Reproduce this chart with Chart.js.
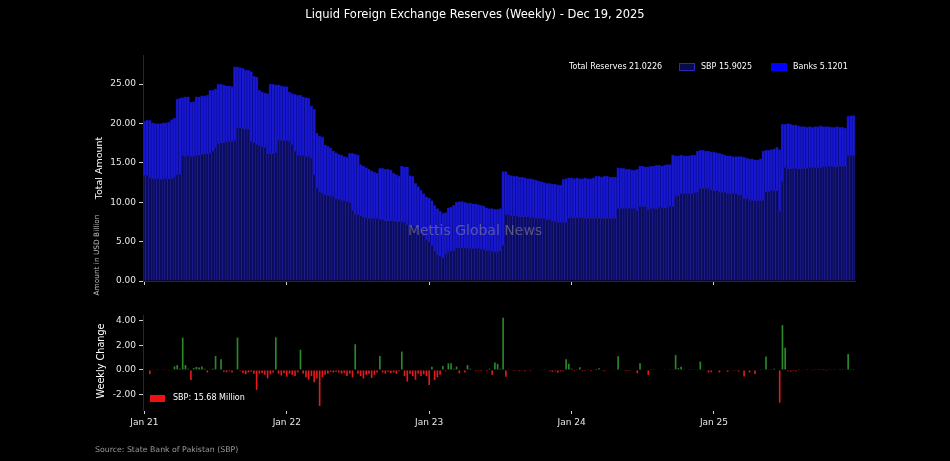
<!DOCTYPE html>
<html>
<head>
<meta charset="utf-8">
<script src="https://cdn.jsdelivr.net/npm/chart.js@4.4.1/dist/chart.umd.min.js"></script>
<style>
  html, body { margin: 0; padding: 0; background: #000; }
  body { width: 950px; height: 461px; position: relative; overflow: hidden; font-family: "DejaVu Sans", sans-serif; color: #fff; }
  #topBox { position: absolute; left: 0; top: 0; width: 950px; height: 290px; }
  #bottomBox { position: absolute; left: 0; top: 290px; width: 950px; height: 145px; }
  .t { position: absolute; white-space: nowrap; line-height: 1; }
  .rot { transform: translate(-50%, -50%) rotate(-90deg); }
  .box { position: absolute; }
</style>
</head>
<body>
<div id="topBox"><canvas id="top"></canvas></div>
<div id="bottomBox"><canvas id="bottom"></canvas></div>

<div class="t" style="left:0;width:950px;text-align:center;top:9px;font-size:11.5px;">Liquid Foreign Exchange Reserves (Weekly) - Dec 19, 2025</div>

<div class="t rot" style="left:99px;top:168px;font-size:9.5px;">Total Amount</div>
<div class="t rot" style="left:97px;top:255px;font-size:7.4px;color:#bdbdbd;">Amount in USD Billion</div>
<div class="t rot" style="left:101px;top:361px;font-size:9.7px;">Weekly Change</div>

<div class="t" style="left:569px;top:63px;font-size:8px;">Total Reserves 21.0226</div>
<div class="box" style="left:679px;top:63px;width:14px;height:6px;border:1px solid #2a2ab8;background:#0a0a48;"></div>
<div class="t" style="left:701px;top:63px;font-size:8px;">SBP 15.9025</div>
<div class="box" style="left:771px;top:63px;width:16px;height:8px;background:#0000ff;"></div>
<div class="t" style="left:793px;top:63px;font-size:8px;">Banks 5.1201</div>

<div class="box" style="left:150px;top:395px;width:15px;height:7px;background:#ee1111;"></div>
<div class="t" style="left:173px;top:394px;font-size:8px;">SBP: 15.68 Million</div>

<div class="t" style="left:475px;top:230px;transform:translate(-50%,-50%);font-size:14px;color:rgba(140,140,150,0.55);">Mettis Global News</div>

<div class="t" style="left:95px;top:446px;font-size:7.8px;color:#9a9a9a;">Source: State Bank of Pakistan (SBP)</div>

<script>
// weekly SBP reserves, USD billion (Fridays from 1 Jan 2021)
const sbpReserves = [
  13.4, 13.4, 13.1, 13.05, 13.0, 13.0, 12.95, 13.0, 13.0, 13.0,
  13.05, 13.1, 13.5, 13.6, 15.9, 15.8, 15.9, 15.8, 15.8, 15.9,
  16.0, 16.1, 16.2, 16.2, 16.3, 16.5, 17.0, 17.5, 17.6, 17.6,
  17.7, 17.7, 17.7, 17.8, 19.5, 19.5, 19.4, 19.4, 19.3, 17.7,
  17.6, 17.3, 17.2, 17.1, 17.0, 16.2, 16.2, 16.2, 16.3, 17.9,
  17.9, 17.8, 17.8, 17.7, 17.3, 16.5, 16.0, 15.9, 15.9, 15.8,
  15.8, 15.6, 13.5, 11.8, 11.3, 11.1, 11.0, 10.9, 10.8, 10.7,
  10.5, 10.4, 10.3, 10.2, 10.1, 10.0, 9.0, 8.5, 8.4, 8.3,
  8.2, 8.1, 8.0, 8.0, 7.9, 7.9, 7.8, 7.8, 7.7, 7.7,
  7.7, 7.7, 7.6, 7.6, 7.5, 7.4, 7.2, 7.1, 7.0, 6.9,
  6.6, 6.2, 5.8, 5.3, 5.0, 4.5, 3.9, 3.4, 3.1, 3.0,
  3.5, 3.7, 3.8, 3.9, 4.3, 4.3, 4.2, 4.2, 4.2, 4.1,
  4.1, 4.1, 4.1, 4.0, 4.0, 3.9, 3.9, 3.8, 3.7, 3.7,
  3.9, 4.5, 8.4, 8.4, 8.3, 8.3, 8.3, 8.2, 8.2, 8.2,
  8.2, 8.1, 8.1, 8.0, 8.0, 7.9, 7.9, 7.8, 7.8, 7.7,
  7.6, 7.5, 7.4, 7.4, 7.4, 8.0, 8.1, 8.1, 8.1, 8.1,
  8.1, 8.0, 8.0, 8.0, 8.0, 8.0, 8.0, 8.0, 8.0, 8.0,
  8.0, 8.0, 8.0, 9.2, 9.2, 9.2, 9.2, 9.2, 9.2, 9.2,
  9.0, 9.5, 9.5, 9.5, 9.1, 9.2, 9.2, 9.25, 9.3, 9.3,
  9.35, 9.4, 9.45, 9.5, 10.7, 10.9, 11.1, 11.1, 11.1, 11.1,
  11.15, 11.2, 11.2, 11.8, 11.8, 11.8, 11.7, 11.6, 11.5, 11.5,
  11.3, 11.3, 11.3, 11.15, 11.15, 11.1, 11.1, 11.0, 11.0, 10.5,
  10.5, 10.3, 10.3, 10.2, 10.2, 10.25, 10.3, 11.4, 11.4, 11.45,
  11.5, 11.5, 8.9, 12.6, 14.4, 14.3, 14.3, 14.25, 14.25, 14.3,
  14.3, 14.35, 14.35, 14.4, 14.4, 14.4, 14.45, 14.45, 14.5, 14.5,
  14.5, 14.5, 14.55, 14.55, 14.6, 14.6, 14.6, 15.9, 15.9, 15.9025
];

// weekly total liquid reserves (SBP + banks)
const totalReserves = [
  20.3, 20.4, 20.4, 20.1, 20.0, 20.0, 20.0, 20.1, 20.1, 20.2,
  20.5, 20.7, 23.1, 23.2, 23.3, 23.4, 23.4, 22.7, 22.8, 23.4,
  23.4, 23.5, 23.5, 23.6, 24.2, 24.2, 24.4, 25.0, 25.0, 24.9,
  24.8, 24.8, 24.7, 27.2, 27.2, 27.1, 27.0, 26.8, 26.8, 26.6,
  26.0, 25.9, 24.2, 24.0, 23.9, 23.8, 25.0, 25.0, 24.9, 24.9,
  24.8, 24.7, 24.7, 24.0, 23.8, 23.7, 23.6, 23.6, 23.4, 23.3,
  23.2, 22.2, 21.8, 18.8, 18.4, 18.3, 17.3, 17.1, 16.9, 16.5,
  16.3, 16.1, 16.0, 15.8, 15.7, 16.2, 16.2, 16.1, 16.0, 14.8,
  14.6, 14.4, 14.2, 14.0, 13.8, 13.7, 14.3, 14.3, 14.2, 14.2,
  14.1, 13.7, 13.5, 13.3, 14.6, 14.5, 14.5, 13.4, 13.3, 12.4,
  12.0, 11.5, 11.1, 10.7, 10.5, 10.2, 9.6, 9.2, 8.9, 8.6,
  8.7, 9.3, 9.4, 9.6, 10.0, 10.1, 10.1, 10.0, 9.9, 9.9,
  9.8, 9.8, 9.7, 9.6, 9.5, 9.3, 9.2, 9.2, 9.1, 9.1,
  9.2, 13.9, 13.9, 13.5, 13.4, 13.3, 13.3, 13.2, 13.2, 13.1,
  13.0, 13.0, 12.9, 12.8, 12.7, 12.6, 12.5, 12.4, 12.4, 12.3,
  12.3, 12.2, 12.2, 12.9, 13.0, 13.1, 13.1, 13.0, 13.1, 13.0,
  13.0, 13.1, 13.0, 13.0, 13.1, 13.3, 13.3, 13.2, 13.3, 13.3,
  13.2, 13.2, 13.2, 14.4, 14.3, 14.3, 14.2, 14.2, 14.1, 14.1,
  14.2, 14.6, 14.6, 14.5, 14.5, 14.6, 14.6, 14.7, 14.7, 14.6,
  14.7, 14.8, 14.8, 16.0, 15.9, 15.9, 16.0, 15.9, 15.9, 15.9,
  16.0, 16.0, 16.5, 16.6, 16.6, 16.5, 16.5, 16.4, 16.4, 16.3,
  16.2, 16.1, 16.0, 15.9, 15.9, 15.8, 15.8, 15.8, 15.8, 15.7,
  15.6, 15.5, 15.5, 15.4, 15.4, 15.5, 16.5, 16.6, 16.6, 16.7,
  16.8, 17.0, 16.7, 19.9, 19.9, 20.0, 19.9, 19.8, 19.8, 19.7,
  19.6, 19.6, 19.5, 19.6, 19.5, 19.6, 19.6, 19.7, 19.6, 19.6,
  19.6, 19.5, 19.5, 19.6, 19.5, 19.5, 19.4, 20.9, 21.0, 21.0226
];

// weekly change in SBP reserves, USD billion
const weeklyChange = [
  0, -0.05, -0.33, 0.03, -0.05, 0.02, -0.04, 0.02, 0.03, -0.03,
  0.05, 0.3, 0.4, 0.1, 2.64, 0.4, 0.1, -0.82, 0.15, 0.25,
  0.2, 0.28, 0.1, -0.2, 0.05, 0.1, 1.14, 0.05, 0.87, -0.15,
  -0.18, -0.1, -0.2, 0.05, 2.64, -0.1, -0.25, -0.35, -0.2, -0.15,
  -0.3, -1.63, -0.3, -0.25, -0.4, -0.68, -0.35, -0.2, 2.67, -0.3,
  -0.45, -0.25, -0.55, -0.3, -0.4, -0.5, -0.2, 1.65, -0.3, -0.6,
  -0.8, -0.5, -1.0, -0.7, -2.94, -0.6, -0.4, -0.3, -0.15, -0.2,
  -0.15, -0.2, -0.3, -0.25, -0.5, -0.3, -0.6, 2.1, -0.3, -0.5,
  -0.7, -0.4, -0.3, -0.65, -0.4, -0.2, 1.14, -0.2, -0.3, -0.15,
  -0.25, -0.2, -0.3, -0.1, 1.5, -0.5, -0.95, -0.3, -0.5, -0.8,
  -0.3, -0.5, -0.35, -0.5, -1.22, 0.27, -0.82, -0.6, -0.4, 0.33,
  -0.1, 0.54, 0.54, 0.1, 0.27, -0.27, -0.05, -0.2, 0.4, 0.1,
  -0.05, -0.1, -0.08, -0.1, -0.05, -0.1, 0.1, -0.4, 0.6, 0.5,
  0.1, 4.27, -0.55, 0.02, -0.05, -0.08, -0.05, -0.1, -0.06, -0.1,
  -0.05, -0.08, 0.03, -0.05, 0.04, -0.03, 0.02, -0.05, -0.1, -0.15,
  -0.1, -0.2, -0.12, -0.1, 0.87, 0.5, 0.1, -0.1, 0.05, 0.22,
  -0.1, -0.08, 0.05, -0.1, -0.05, 0.08, 0.15, -0.05, -0.1, -0.05,
  0.03, -0.03, 0.05, 1.13, 0.02, -0.05, -0.1, -0.08, -0.03, 0.04,
  -0.27, 0.54, 0.03, -0.05, -0.4, 0.05, 0.06, 0.04, 0.05, 0.03,
  0.05, 0.04, 0.06, 0.02, 1.22, 0.15, 0.27, 0.05, 0.04, 0.06,
  0.05, 0.05, 0.03, 0.68, 0.02, -0.05, -0.2, -0.18, -0.05, -0.03,
  -0.2, -0.05, -0.04, -0.15, -0.05, -0.03, -0.06, -0.12, -0.04, -0.54,
  -0.05, -0.2, -0.05, -0.33, 0.04, 0.06, 0.03, 1.1, 0.05, 0.02,
  0.1, 0.04, -2.67, 3.67, 1.82, -0.1, -0.12, -0.08, -0.1, 0.02,
  -0.03, 0.04, 0.02, 0.03, -0.02, 0.02, 0.01, 0.02, 0.01, -0.01,
  0.02, 0.03, 0.02, 0.04, 0.01, 0.02, 0.03, 1.3, 0.01, 0.0157
];

// x tick positions (week index) and their labels
const yearTickIdx = [0, 52, 104, 156, 208];
const yearTickLabels = ['Jan 21', 'Jan 22', 'Jan 23', 'Jan 24', 'Jan 25'];

// week dates used as categories
const weeks = [];
for (let i = 0; i < sbpReserves.length; i++) {
    const d = new Date(Date.UTC(2021, 0, 1 + 7 * i));
    weeks.push(d.toISOString().slice(0, 10));
}

const tickFont = { family: 'DejaVu Sans', size: 9 };
const spine = '#1e1e70';

function xAxis(showLabels) {
    return {
        type: 'category',
        offset: true,
        afterBuildTicks: s => { s.ticks = yearTickIdx.map(v => ({ value: v })); },
        ticks: {
            autoSkip: false,
            maxRotation: 0,
            color: '#e8e8e8',
            font: tickFont,
            padding: 3,
            callback: v => showLabels ? yearTickLabels[yearTickIdx.indexOf(v)] : ''
        },
        grid: { drawOnChartArea: false, drawTicks: true, tickLength: 4, color: '#d0d0d0', offset: false },
        // lower panel has no visible bottom spine
        border: { display: true, color: showLabels ? 'rgba(0,0,0,0)' : spine },
        afterFit: s => { s.height = showLabels ? 25 : 9; }
    };
}

function yAxis(min, max, step) {
    return {
        min: min,
        max: max,
        ticks: {
            stepSize: step,
            includeBounds: false,
            color: '#e8e8e8',
            font: tickFont,
            padding: 3,
            callback: v => v.toFixed(2)
        },
        grid: { drawOnChartArea: false, drawTicks: true, tickLength: 4, color: '#d0d0d0' },
        border: { display: true, color: spine },
        afterFit: s => { s.width = 143; }
    };
}

Chart.defaults.animation = false;

new Chart(document.getElementById('top'), {
    type: 'bar',
    data: {
        labels: weeks,
        datasets: [
            {
                label: 'SBP',
                data: sbpReserves,
                backgroundColor: '#0c0c5c',
                borderColor: '#2626a8',
                borderWidth: 0.6,
                barPercentage: 1,
                categoryPercentage: 1,
                grouped: false,
                order: 2
            },
            {
                label: 'Banks',
                data: sbpReserves.map((s, i) => [s, totalReserves[i]]),
                backgroundColor: '#1818d2',
                borderColor: '#0c0c8c',
                borderWidth: 0.6,
                barPercentage: 1,
                categoryPercentage: 1,
                grouped: false,
                order: 1
            }
        ]
    },
    options: {
        responsive: true,
        maintainAspectRatio: false,
        events: [],
        layout: { padding: { top: 55, right: 95, left: 0, bottom: 0 } },
        plugins: { legend: { display: false }, tooltip: { enabled: false } },
        scales: { x: xAxis(false), y: yAxis(0, 28.7, 5) }
    }
});

new Chart(document.getElementById('bottom'), {
    type: 'bar',
    data: {
        labels: weeks,
        datasets: [{
            label: 'SBP',
            data: weeklyChange,
            backgroundColor: weeklyChange.map(v => v >= 0 ? '#2a8a2a' : '#e51a1a'),
            barPercentage: 0.6,
            categoryPercentage: 1
        }]
    },
    options: {
        responsive: true,
        maintainAspectRatio: false,
        events: [],
        layout: { padding: { top: 25, right: 95, left: 0, bottom: 0 } },
        plugins: { legend: { display: false }, tooltip: { enabled: false } },
        scales: { x: xAxis(true), y: yAxis(-3.27, 4.49, 2) }
    }
});
</script>
</body>
</html>
